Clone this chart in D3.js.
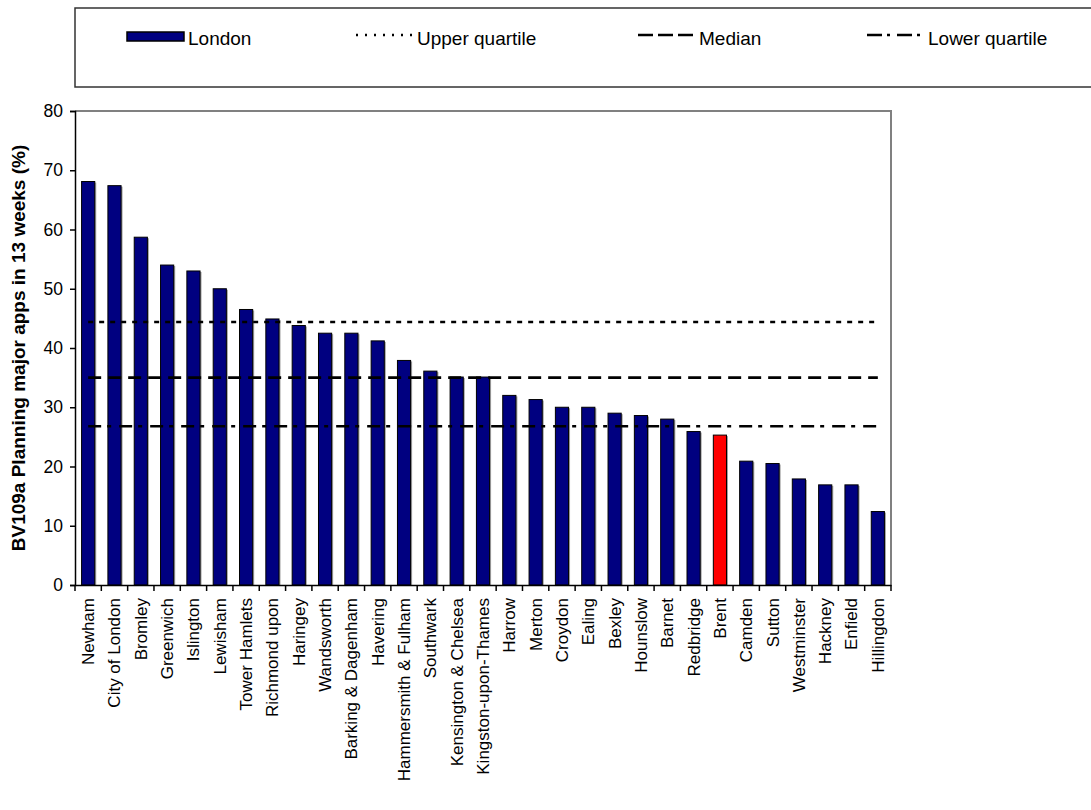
<!DOCTYPE html>
<html>
<head>
<meta charset="utf-8">
<script src="https://cdn.jsdelivr.net/npm/d3@7"></script>
<style>
  html, body { margin: 0; padding: 0; background: #fff; }
  svg { display: block; font-family: "Liberation Sans", Arial, sans-serif; }
</style>
</head>
<body>
<svg id="chart" width="1091" height="810"></svg>
<script>
// ---- Data ----
const categories = ["Newham", "City of London", "Bromley", "Greenwich", "Islington", "Lewisham",
  "Tower Hamlets", "Richmond upon", "Haringey", "Wandsworth", "Barking & Dagenham", "Havering",
  "Hammersmith & Fulham", "Southwark", "Kensington & Chelsea", "Kingston-upon-Thames", "Harrow",
  "Merton", "Croydon", "Ealing", "Bexley", "Hounslow", "Barnet", "Redbridge", "Brent", "Camden",
  "Sutton", "Westminster", "Hackney", "Enfield", "Hillingdon"];
const values = [68.1, 67.4, 58.7, 54.0, 53.0, 50.0, 46.5, 44.9, 43.8, 42.5, 42.5, 41.2,
  37.9, 36.1, 35.1, 35.1, 32.0, 31.3, 30.0, 30.0, 29.0, 28.6, 28.0, 25.9, 25.3, 20.9,
  20.5, 17.9, 16.9, 16.9, 12.4];
const highlight = "Brent";
const upperQuartile = 44.4;
const median = 35.0;
const lowerQuartile = 26.8;
const yTicks = [0, 10, 20, 30, 40, 50, 60, 70, 80];
const yTitle = "BV109a Planning major apps in 13 weeks (%)";
const legendLabels = ["London", "Upper quartile", "Median", "Lower quartile"];

// ---- Layout ----
const svg = d3.select("#chart");
const pL = 75, pR = 891, pT = 111, pB = 585;

const x = d3.scaleBand().domain(categories).range([pL, pR]).paddingInner(0.5).paddingOuter(0.25);
const xb = d3.scaleBand().domain(categories).range([pL, pR]);
const y = d3.scaleLinear().domain([0, 80]).range([pB, pT]);

// plot frame (grey top/right)
svg.append("path")
  .attr("d", `M${pL},${pT}H${pR}V${pB}`)
  .attr("fill", "none").attr("stroke", "#808080").attr("stroke-width", 2);

// bars
const data = categories.map((c, i) => ({ c, v: values[i] }));
svg.append("g").selectAll("rect").data(data).join("rect")
  .attr("x", d => x(d.c) + 1.5).attr("y", d => y(d.v) + 1)
  .attr("width", x.bandwidth()).attr("height", d => y(0) - y(d.v) - 1)
  .attr("fill", "#a0a0a0");
svg.append("g").selectAll("rect").data(data).join("rect")
  .attr("x", d => x(d.c)).attr("y", d => y(d.v))
  .attr("width", x.bandwidth()).attr("height", d => y(0) - y(d.v))
  .attr("fill", d => d.c === highlight ? "#ff0000" : "#000080")
  .attr("stroke", "#000").attr("stroke-width", 1);

// quartile lines
const x0 = xb(categories[0]) + xb.bandwidth() / 2;
const x1 = xb(categories[categories.length - 1]) + xb.bandwidth() / 2;
const lines = [
  { v: upperQuartile, dash: "5,6" },
  { v: median, dash: "13,7" },
  { v: lowerQuartile, dash: "13,6,4,8" }
];
svg.append("g").selectAll("line").data(lines).join("line")
  .attr("x1", x0).attr("x2", x1)
  .attr("y1", d => y(d.v)).attr("y2", d => y(d.v))
  .attr("stroke", "#000").attr("stroke-width", 2.6)
  .attr("stroke-dasharray", d => d.dash);

// y axis
const yAxis = svg.append("g").attr("transform", `translate(${pL},0)`)
  .call(d3.axisLeft(y).tickValues(yTicks).tickSize(5).tickPadding(7));
yAxis.selectAll("text").attr("font-size", 17.5).attr("fill", "#000")
  .attr("font-family", "Liberation Sans, Arial, sans-serif");
yAxis.selectAll("line, path").attr("stroke", "#000").attr("stroke-width", 1.5);

// x axis
const xAxis = svg.append("g").attr("transform", `translate(0,${pB})`)
  .call(d3.axisBottom(xb).tickSize(0).tickFormat(""));
xAxis.select("path").attr("stroke", "#000").attr("stroke-width", 1.5);
// tick marks at band boundaries
const bounds = categories.map(c => xb(c)).concat([pR]);
svg.append("g").selectAll("line").data(bounds).join("line")
  .attr("x1", d => d).attr("x2", d => d)
  .attr("y1", pB).attr("y2", pB + 6)
  .attr("stroke", "#000").attr("stroke-width", 1.5);
// rotated labels
svg.append("g").selectAll("text").data(categories).join("text")
  .attr("transform", c => `translate(${xb(c) + xb.bandwidth() / 2},${pB + 13}) rotate(-90)`)
  .attr("text-anchor", "end").attr("dy", "0.35em")
  .attr("font-size", 17).attr("fill", "#000")
  .text(c => c);

// y title
svg.append("text")
  .attr("transform", `translate(25,${(pT + pB) / 2}) rotate(-90)`)
  .attr("text-anchor", "middle").attr("font-size", 19).attr("font-weight", "bold")
  .text(yTitle);

// legend
const lg = svg.append("g");
lg.append("rect").attr("x", 75).attr("y", 8).attr("width", 1030).attr("height", 79)
  .attr("fill", "none").attr("stroke", "#333").attr("stroke-width", 1.5);
const lgY = 36;
const items = [
  { label: legendLabels[0], type: "bar", x: 127 },
  { label: legendLabels[1], type: "line", x: 356, dash: "2,7" },
  { label: legendLabels[2], type: "line", x: 638, dash: "15,5" },
  { label: legendLabels[3], type: "line", x: 867, dash: "15,5,3,7" }
];
items.forEach(it => {
  if (it.type === "bar") {
    lg.append("rect").attr("x", it.x).attr("y", lgY - 4).attr("width", 57).attr("height", 9)
      .attr("fill", "#000080").attr("stroke", "#000").attr("stroke-width", 1.5);
  } else {
    lg.append("line").attr("x1", it.x).attr("x2", it.x + 57)
      .attr("y1", lgY - 1).attr("y2", lgY - 1)
      .attr("stroke", "#000").attr("stroke-width", 2.6).attr("stroke-dasharray", it.dash);
  }
  lg.append("text").attr("x", it.x + 61).attr("y", lgY + 9)
    .attr("font-size", 19).attr("fill", "#000").text(it.label);
});
</script>
</body>
</html>
